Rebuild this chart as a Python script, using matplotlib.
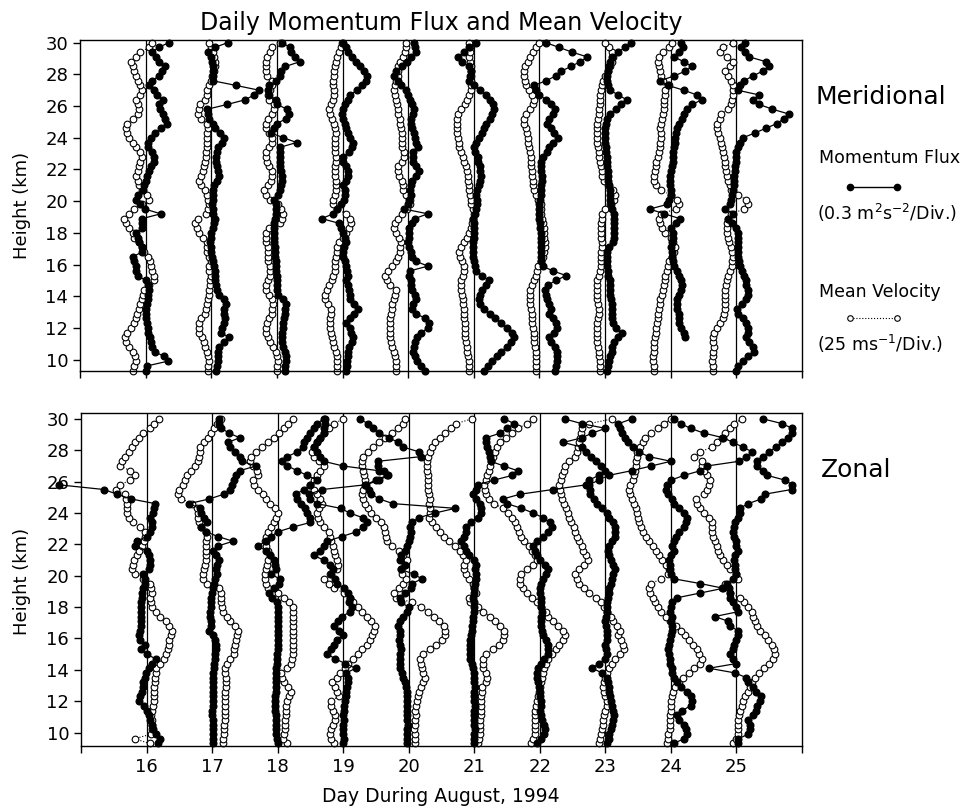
import numpy as np
import matplotlib
matplotlib.use('Agg')
import matplotlib.pyplot as plt
from matplotlib.lines import Line2D

# Profiles are read off the picture as offsets from each day line, in
# divisions x100 (flux: 0.3 m^2 s^-2 per div, velocity: 25 m/s per div).
days = [16, 17, 18, 19, 20, 21, 22, 23, 24, 25]

heights = [9.3, 9.6, 9.9, 10.2, 10.5, 10.8, 11.1, 11.4, 11.7, 12.0,
           12.3, 12.6, 12.9, 13.2, 13.5, 13.8, 14.1, 14.4, 14.7, 15.0,
           15.3, 15.6, 15.9, 16.2, 16.5, 16.8, 17.1, 17.4, 17.7, 18.0,
           18.3, 18.6, 18.9, 19.2, 19.5, 19.8, 20.1, 20.4, 20.7, 21.0,
           21.3, 21.6, 21.9, 22.2, 22.5, 22.8, 23.1, 23.4, 23.7, 24.0,
           24.3, 24.6, 24.9, 25.2, 25.5, 25.8, 26.1, 26.4, 26.7, 27.0,
           27.3, 27.6, 27.9, 28.2, 28.5, 28.8, 29.1, 29.4, 29.7, 30.0]

merid_flux = [
    "0 2 34 28 14 10 8 7 4 3  2 1 0 1 2 3 4 5 3 0  -12 -14 -15 -18 -19 -5 -5 -10 -12 -14  -6 -5 -5 23 -1 -8 -15 -12 -4 -3  0 2 5 8 12 13 10 4 3 8  15 24 33 30 27 22 20 26 18 12  5 10 20 25 30 20 16 10 20 35",
    "7 8 10 11 10 12 20 27 15 17  20 21 19 20 22 19 12 8 7 6  6 5 4 3 1 0 -1 -2 -1 0  2 4 5 3 2 1 2 2 3 4  8 12 10 8 7 7 8 11 17 19  13 6 2 -3 -5 -6 24 52 65 73  38 2 2 2 2 1 0 -5 5 25",
    "12 13 14 14 12 10 8 7 8 9  10 11 12 13 14 10 2 0 0 0  0 -1 -1 -2 -3 -3 -3 -4 -4 -4  -4 -4 -3 -2 -1 -1 -5 2 5 6  7 8 6 5 4 4 4 5 30 10  -9 -5 0 14 19 16 0 -1 -12 -13  -12 -1 4 6 13 35 28 22 20 8",
    "6 7 7 8 8 10 15 16 13 12  6 12 18 24 18 12 11 10 8 6  8 7 6 3 1 1 2 6 3 1  -2 -5 -32 -14 -8 -2 2 4 3 1  6 8 9 5 1 1 10 14 16 12  9 5 3 1 -1 1 4 8 11 22  30 35 37 33 26 21 15 9 6 0",
    "25 20 14 10 8 9 11 14 20 30  32 26 12 6 8 12 10 6 5 4  2 3 30 12 6 4 1 0 1 1  2 6 10 30 -6 -1 2 4 3 5  6 12 17 12 8 7 7 15 12 10  9 6 4 5 7 9 6 3 0 -3  -11 -16 -21 -18 -10 -2 5 12 10 9",
    "15 22 28 36 42 50 56 61 58 50  41 33 24 15 10 8 10 12 18 23  12 4 2 0 -1 -1 -2 -2 0 0  0 0 -2 2 4 5 5 4 5 8  10 11 10 9 7 6 2 0 4 8  12 15 18 24 28 30 29 25 18 10  0 -7 -6 -5 -8 -18 -24 -15 -8 3",
    "23 25 27 27 26 24 18 15 22 27  25 20 15 18 15 12 10 8 13 25  41 20 5 3 3 3 2 2 2 2  1 1 0 0 0 0 1 2 3 3  4 4 3 3 3 5 12 15 20 28  22 18 12 15 20 23 18 10 0 -6  -8 10 25 33 48 62 73 50 30 10",
    "3 4 6 8 10 11 13 20 25 16  12 11 11 10 10 9 8 8 7 7  5 4 3 3 3 3 6 12 14 14  14 14 14 13 10 9 8 8 7 6  5 4 4 3 3 3 2 1 0 0  0 0 1 3 8 16 24 33 20 8  4 3 3 4 6 8 10 20 30 40",
    "nan nan nan nan nan nan nan 22 20 15  13 12 12 10 9 9 12 15 17 16  12 9 5 3 2 2 1 2 3 4  0 8 14 -10 -32 -5 -2 0 0 -1  -1 -1 0 2 3 4 4 5 6 7  8 9 13 17 20 25 33 47 40 20  -4 -16 5 22 32 20 5 12 18 15",
    "0 2 10 18 27 25 20 15 17 18  15 10 2 1 8 15 18 17 15 14  12 9 5 4 3 3 3 2 2 2  0 -6 -13 -5 -18 -10 -8 -6 -5 -4  -4 -3 -2 -2 -1 -1 0 2 5 10  28 45 62 72 80 55 35 25 35 2  5 12 25 40 50 45 20 13 7 13",
]

merid_vel = [
    "-20 -18 -15 -16 -20 -25 -30 -32 -28 -22  -17 -15 -13 -10 -8 -6 -4 -2 5 12  12 10 8 6 4 -2 -5 -10 -18 -20  -25 -30 -33 -25 -18 -5 5 2 -5 -10  -12 -15 -12 -10 -8 -6 -8 -15 -20 -25  -28 -30 -28 -20 -12 -10 -12 -15 -8 -5  -8 -12 -15 -18 -20 -22 -15 -8 5 10",
    "-5 -5 -4 -5 -6 -9 -11 -14 -18 -19  -18 -15 -10 -8 -6 -5 -4 -3 -2 -2  -1 -3 -4 0 -3 -6 -6 -7 -12 -18  -22 -25 -20 -8 -5 -4 -5 -7 -10 -15  -18 -16 -13 -11 -9 -8 -8 -7 -7 -6  -6 -5 -7 -15 -20 -19 -17 -10 -7 -6  -3 0 1 4 5 6 4 2 0 -4",
    "0 0 1 0 -2 -6 -10 -13 -16 -16  -15 -12 -8 -7 -6 -7 -12 -16 -16 -13  -10 -10 -11 -13 -13 -14 -14 -16 -17 -17  -12 5 8 9 6 2 -10 -17 -19 -14  -9 -7 -8 -12 -15 -17 -16 -12 -8 -7  -12 -16 -16 -14 -8 -4 -4 -12 -14 -10  -8 -8 -15 -17 -17 -16 -15 -10 -7 4",
    "-8 -8 -9 -9 -10 -13 -15 -16 -18 -19  -19 -19 -18 -17 -22 -26 -27 -24 -20 -16  -14 -12 -12 -11 -10 -9 -8 -5 0 6  10 13 12 5 -8 -15 -14 -12 -10 -10  -10 -11 -11 -11 -10 -10 -11 -12 -12 -11  -10 -11 -13 -16 -19 -20 -17 -14 -13 -13  -14 -14 -13 -13 -12 -10 -8 -5 -3 -1",
    "-19 -19 -19 -20 -21 -24 -26 -27 -28 -28  -28 -27 -26 -25 -24 -22 -20 -18 -28 -33  -35 -30 -25 -18 -16 -12 -12 -11 -14 -18  -22 -20 -16 -10 -2 3 3 -4 -8 -8  -10 -14 -16 -15 -10 -6 -6 -9 -10 -10  -10 -11 -12 -13 -15 -16 -17 -18 -20 -22  -20 -18 -16 -16 -15 -13 -8 -5 -4 -3",
    "-8 -8 -8 -9 -10 -11 -12 -13 -14 -14  -14 -15 -15 -15 -16 -17 -18 -19 -20 -19  -16 -15 -15 -18 -21 -22 -20 -15 -10 -7  -5 -3 -1 0 -2 -4 -5 -6 -7 -8  -9 -9 -10 -12 -15 -17 -20 -22 -23 -24  -25 -26 -26 -25 -24 -20 -14 -10 -7 -5  -4 -4 -4 -5 -5 -6 -7 -6 -6 -8",
    "-5 -5 -5 -6 -6 -7 -8 -8 -9 -10  -11 -12 -12 -13 -14 -15 -15 -14 -11 -8  -5 -3 -2 2 5 7 8 8 7 7  7 6 4 3 3 2 -2 -6 -9 -10  -10 -11 -12 -13 -13 -13 -14 -16 -18 -18  -19 -21 -23 -23 -20 -14 -10 -9 -12 -16  -20 -22 -23 -24 -22 -18 -14 -10 -6 0",
    "-8 -8 -8 -9 -10 -11 -12 -13 -13 -13  -12 -11 -10 -10 -11 -12 -13 -13 -12 -12  -10 -7 -6 -6 -6 -6 -5 -5 -6 -6  -6 -6 -5 -4 0 8 14 15 12 5  -2 -4 -5 -6 -8 -9 -10 -11 -12 -13  -13 -13 -12 -11 -10 -9 -8 -8 -7 -6  -5 -3 0 4 8 11 12 10 6 0",
    "-25 -26 -27 -27 -26 -25 -25 -24 -23 -22  -21 -20 -19 -18 -17 -16 -14 -12 -10 -9  -8 -6 -4 -2 2 5 6 4 0 -8  -14 -17 -18 -15 8 12 10 0 -15 -22  -25 -25 -24 -23 -22 -20 -18 -17 -16 -15  -15 -16 -15 -14 -12 -11 -10 -10 -9 -8  -3 -12 -15 -17 -18 -19 -18 -12 -2 2",
    "-35 -36 -37 -36 -35 -34 -35 -36 -34 -30  -25 -21 -19 -18 -17 -17 -17 -17 -16 -15  -13 -10 -7 -6 -5 -6 -8 -11 -13 -14  -15 -14 -13 -8 12 18 15 2 -8 -10  -12 -14 -16 -17 -18 -19 -20 -22 -24 -25  -28 -30 -30 -25 -23 -12 -8 -6 -5 -5  -5 -8 -12 -18 -10 -5 -15 -25 -20 -5",
]

zonal_flux = [
    "18 21 14 10 8 6 4 0 -4 -12  -10 -7 -6 -5 -3 -1 3 8 14 0  -9 -2 -10 -11 -10 -9 -9 -9 -9 -8  -8 -7 -7 -5 -3 -2 -5 3 5 6  4 1 -17 -15 0 6 9 8 6 10  11 13 -24 -45 -65 -134 nan nan nan nan  nan nan nan nan nan nan nan nan nan nan",
    "1 1 1 1 1 1 0 0 1 1  1 2 2 2 2 2 3 3 4 5  6 6 4 2 -5 -2 -2 -3 -3 -2  -1 -1 0 1 3 5 8 6 7 11  6 1 9 32 9 -9 -17 -8 -12 -17  -19 -35 -4 18 27 30 33 37 42 67  45 42 35 27 24 42 26 14 11 11",
    "0 -1 -2 -2 -3 -3 -3 -4 -4 -4  -4 -3 -3 -3 -2 -2 -2 -1 -1 -1  0 0 0 0 0 0 0 0 0 0  -1 -8 -13 -5 2 3 -10 -2 -4 -5  -12 -18 -30 -18 -10 0 23 50 50 45  42 35 30 28 40 50 60 45 30 15  6 15 30 38 40 45 50 55 60 70",
    "0 1 0 -1 0 1 0 1 2 3  4 5 6 7 7 5 19 3 -12 -24  -18 -14 -10 0 -7 -14 -8 -2 11 13  9 11 8 2 -9 -12 -19 -15 -20 -30  -45 -35 -30 -25 -2 20 30 37 30 10  -4 -40 -50 -52 -32 34 50 67 54 0  -30 -35 -40 -45 -40 -35 -30 -30 -28 -27",
    "-2 -2 -3 -2 -1 -2 -3 -2 -2 -3  -2 -3 -4 -6 -8 -11 -13 -14 -13 -14  -12 -14 -15 -14 -13 -16 -14 -8 -3 0  -12 -14 -5 3 5 20 8 -12 -6 -13  -12 -5 -2 0 2 3 2 5 15 40  71 -24 -45 -57 -60 -65 -45 -31 -38 -47  -47 19 16 -8 -16 -30 -45 -55 -62 -75",
    "0 0 0 1 0 0 -1 0 1 0  0 0 1 0 0 -1 -2 -4 -6 -7  -6 -7 -6 -5 -4 -3 -2 -2 -1 -1  -1 -2 -1 0 1 2 2 1 2 0  -8 -12 -15 -20 -15 -12 -13 -5 5 10  10 8 3 -2 2 5 30 58 66 45  25 24 23 20 18 18 40 50 61 46",
    "-5 2 7 8 6 3 2 1 2 2  1 0 -2 -3 -4 -5 -3 2 6 13  13 12 10 5 3 2 2 2 3 2  2 2 1 1 2 5 10 13 8 0  -5 -8 -10 -5 5 12 18 15 5 -10  -28 -50 -56 -30 20 71 75 90 100 93  85 78 70 64 36 64 80 100 64 38",
    "3 5 6 8 10 12 13 12 10 8  7 6 5 4 3 -5 -20 -10 0 2  1 0 2 3 2 1 0 1 2 3  3 4 5 6 8 10 12 15 12 8  5 4 6 10 14 15 15 12 5 2  -5 -12 -18 -23 -24 -25 -10 5 40 70  100 66 51 42 35 30 26 23 20 40",
    "4 20 24 23 20 12 10 17 30 32  30 24 15 10 5 2 1 -1 -2 -3  -4 -3 -2 0 1 2 0 2 -2 0  2 10 45 80 45 5 0 -2 -1 -3  0 4 2 4 8 13 20 23 25 20  12 4 2 -4 -8 -6 0 20 45 55  104 115 124 110 95 80 50 30 15 4",
    "2 3 18 20 20 18 25 30 32 36  38 30 25 18 15 -2 -42 0 -5 -10  -5 -3 0 3 2 -10 -13 -33 2 0  -5 -10 -10 -12 -15 -5 0 -2 -2 -3  -2 2 0 -1 -3 -5 -4 -2 3 6  5 18 38 43 84 85 74 47 40 31  31 40 50 60 70 78 84 85 70 41",
]

zonal_vel = [
    "5 -18 7 8 8 8 7 8 10 11  12 12 12 13 13 14 15 20 27 30  32 34 35 37 39 35 29 21 14 9  7 6 8 7 5 -5 -17 -22 -21 -19  -15 -12 -7 -4 -3 -2 -10 -20 -27 -30  -30 -30 -31 -33 -47 -40 -25 -17 -25 -40  -38 -33 -27 -22 -18 -12 -5 5 12 19",
    "17 17 18 18 18 19 19 20 20 20  20 20 21 21 21 20 19 22 28 33  34 35 36 38 39 35 28 22 17 15  14 14 14 10 -8 -14 -14 -12 -11 -10  -9 -9 -10 -9 -8 -10 -17 -20 -22 -22  -23 -30 -47 -52 -50 -45 -42 -38 -32 -26  -22 -20 -19 -18 -12 -6 -2 3 7 14",
    "15 8 10 11 11 11 12 12 13 14  18 20 16 9 6 5 15 20 22 23  23 24 24 24 24 24 23 23 23 23  17 10 0 -14 -18 -20 -19 -18 -16 -14  -12 -15 -18 -20 -18 -14 -10 -5 -2 0  -4 -12 -18 -23 -30 -36 -38 -30 -32 -38  -42 -40 -33 -24 -14 -5 2 10 16 23",
    "-14 -18 -20 -19 -15 -12 -13 -16 -18 -19  -7 -9 -12 -17 -10 -5 3 8 15 22  29 36 41 44 47 49 42 36 29 22  15 10 2 -14 -22 -30 -20 -10 -8 -10  -12 -14 -15 -18 -20 -22 -30 -35 -38 -40  -37 -33 -35 -40 -44 -50 -45 -40 -35 -30  -37 -45 -48 -45 -40 -36 -30 -22 -14 0",
    "10 10 9 8 9 10 11 10 11 13  14 15 18 22 25 22 20 18 17 22  32 42 50 55 56 54 46 38 30 18  5 -20 -22 -15 -8 -4 -10 -12 -5 -3  -8 -15 -25 -33 -35 -36 -38 -42 -50 -58  -62 -66 -70 -72 -70 -67 -66 -68 -70 -72  -72 -70 -62 -55 -46 -36 -26 -17 -9 -5",
    "6 7 8 8 9 9 10 10 10 11  11 12 12 18 20 18 14 13 14 18  28 38 44 46 45 40 32 24 13 5  -6 -8 2 0 -2 -8 -12 -15 -15 -13  -17 -22 -30 -38 -46 -52 -58 -65 -69 -68  -68 -69 -68 -69 -70 -70 -71 -71 -72 -72  -72 -71 -68 -64 -60 -53 -45 -36 -28 -4",
    "-13 -10 -8 -8 -8 -7 -7 -7 -6 -5  -3 -1 0 2 3 5 7 10 13 18  25 30 36 38 35 28 20 13 10 2  -5 -12 -20 -25 -30 -30 -28 -20 -10 -5  -8 -12 -17 -24 -28 -32 -35 -38 -42 -48  -56 -70 -78 -82 -84 -85 -82 -80 -78 -76  -74 -72 -69 -65 -61 -52 -42 -33 -20 -10",
    "-10 -8 -6 -5 -4 -3 -2 0 2 2  0 -2 -3 -2 0 3 6 10 15 22  28 27 24 20 22 18 12 8 3 -2  -6 -15 -25 -32 -40 -44 -46 -40 -32 -27  -30 -34 -36 -40 -43 -46 -48 -52 -55 -57  -60 -63 -66 -67 -69 -70 -68 -66 -63 -61  -55 -46 -43 -42 -40 -39 -37 -35 -25 10",
    "-6 -5 -4 -2 -2 -1 -1 0 0 0  1 3 7 12 18 27 35 45 48 43  40 34 28 22 15 8 -2 -8 -15 -20  -24 -27 -32 -34 -30 -15 -5 -3 -8 -13  -18 -23 -28 -33 -38 -42 -45 -48 -50 -52  -54 -57 -60 -62 -64 -62 -58 -56 -55 -54  -53 -52 -51 -47 -43 -39 -30 -20 -10 0",
    "-5 0 2 2 2 3 4 5 8 10  13 17 20 24 28 35 42 50 56 59  58 54 48 44 36 32 28 26 24 18  12 5 -10 -22 -18 3 0 -10 -15 -20  -25 -28 -30 -33 -36 -38 -38 -38 -42 -50  -56 -60 -61 -50 -45 -42 -41 -45 -50 -52  -53 -65 -55 -38 -30 -22 -17 -10 -3 8",
]


def offsets(s):
    vals = [float(v) for v in s.split()]
    assert len(vals) == len(heights), (len(vals), s[:30])
    return np.array(vals) / 100.0


def draw_panel(ax, flux, vel, ylim):
    for d in days:
        ax.axvline(d, color='k', lw=0.9, zorder=1)
    for d, f, v in zip(days, flux, vel):
        ax.plot(d + offsets(v), heights, ls=':', lw=0.8, color='k',
                marker='o', ms=4.8, mfc='white', mec='k', mew=0.8,
                clip_on=False, zorder=2)
        ax.plot(d + offsets(f), heights, ls='-', lw=0.9, color='k',
                marker='o', ms=4.8, mfc='k', mec='k',
                clip_on=False, zorder=3)
    ax.set_xlim(15, 26)
    ax.set_ylim(*ylim)
    ax.set_yticks(range(10, 31, 2))
    ax.set_xticks(range(15, 27))
    for sp in ax.spines.values():
        sp.set_linewidth(1.0)
    ax.tick_params(direction='out', length=5, width=1, labelsize=13)


fig = plt.figure(figsize=(9.72, 8.11), dpi=100)
W, H = 972.0, 811.0

ax1 = fig.add_axes([80 / W, 1 - 371 / H, 722 / W, 331 / H])
draw_panel(ax1, merid_flux, merid_vel, (9.28, 30.17))
ax1.set_xticklabels([])

ax2 = fig.add_axes([81 / W, 1 - 746 / H, 721 / W, 333 / H])
draw_panel(ax2, zonal_flux, zonal_vel, (9.14, 30.38))
ax2.set_xticklabels([''] + [str(d) for d in days] + [''])


def ftext(x, y, s, **kw):
    fig.text(x / W, 1 - y / H, s, **kw)


ftext(441, 23, 'Daily Momentum Flux and Mean Velocity', ha='center', va='center', fontsize=17)
ftext(22, 205, 'Height (km)', rotation=90, ha='center', va='center', fontsize=13)
ftext(22, 581, 'Height (km)', rotation=90, ha='center', va='center', fontsize=13)
ftext(441, 797, 'Day During August, 1994', ha='center', va='center', fontsize=13.5)

ftext(816, 97, 'Meridional', ha='left', va='center', fontsize=18)
ftext(819, 158, 'Momentum Flux', ha='left', va='center', fontsize=12.5)
ftext(817, 213, r'(0.3 m$^2$s$^{-2}$/Div.)', ha='left', va='center', fontsize=12.5)
ftext(819, 292, 'Mean Velocity', ha='left', va='center', fontsize=12.5)
ftext(817, 344, r'(25 ms$^{-1}$/Div.)', ha='left', va='center', fontsize=12.5)
ftext(821, 470, 'Zonal', ha='left', va='center', fontsize=18)

fig.add_artist(Line2D([850 / W, 897 / W], [1 - 187 / H] * 2, transform=fig.transFigure,
                      color='k', lw=1, marker='o', ms=4.5, mfc='k'))
fig.add_artist(Line2D([850 / W, 897 / W], [1 - 318 / H] * 2, transform=fig.transFigure,
                      color='k', lw=0.8, ls=':', marker='o', ms=4, mfc='white', mew=0.8))

fig.savefig('out.png', dpi=100)
